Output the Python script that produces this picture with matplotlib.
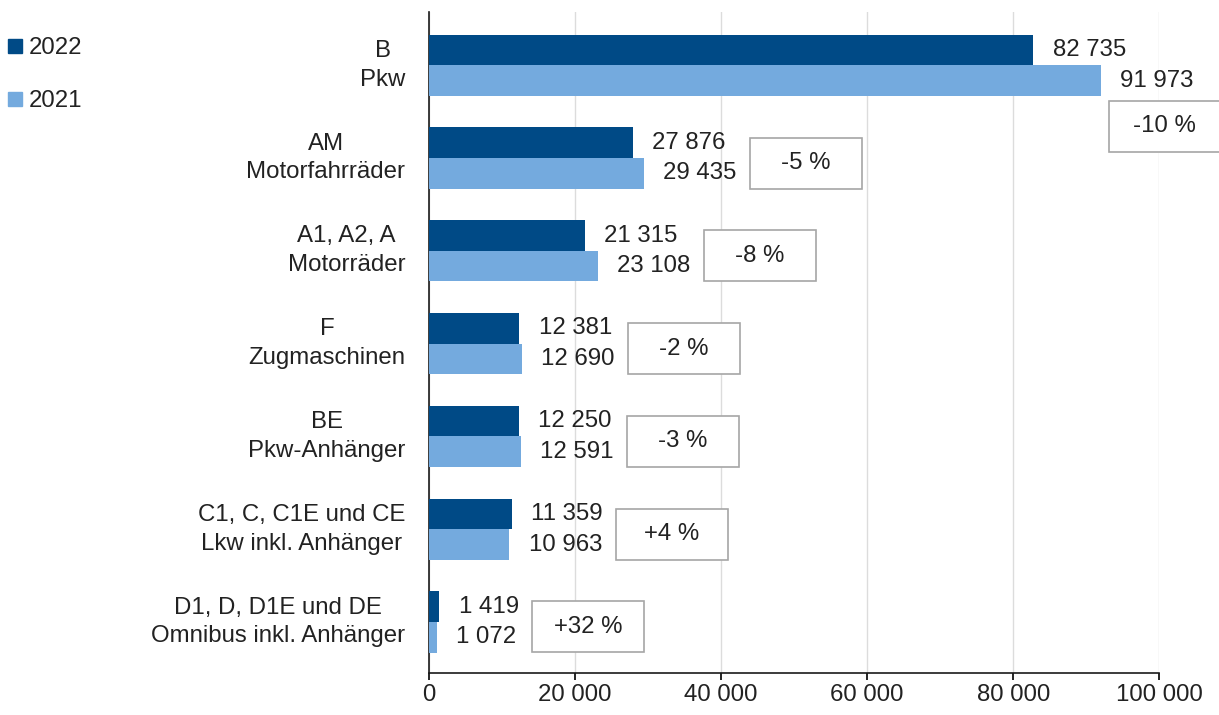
import matplotlib.pyplot as plt
import numpy as np
from matplotlib.lines import Line2D
from matplotlib.patches import Rectangle

plt.rcParams['font.family'] = ['Liberation Sans', 'DejaVu Sans']

# Data
categories = ['B\nPkw', 'AM\nMotorfahrräder', 'A1, A2, A\nMotorräder', 'F\nZugmaschinen',
              'BE\nPkw-Anhänger', 'C1, C, C1E und CE\nLkw inkl. Anhänger',
              'D1, D, D1E und DE\nOmnibus inkl. Anhänger']
values_2022 = [82735, 27876, 21315, 12381, 12250, 11359, 1419]
values_2021 = [91973, 29435, 23108, 12690, 12591, 10963, 1072]
changes = ['-10 %', '-5 %', '-8 %', '-2 %', '-3 %', '+4 %', '+32 %']
xticks = [0, 20000, 40000, 60000, 80000, 100000]

c2022 = '#004a86'
c2021 = '#74aade'
txt = '#222222'
fs = 17.3

def fmt(v):
    return f'{v:,}'.replace(',', ' ')

fig = plt.figure(figsize=(12.19, 7.15), dpi=100)
ax = fig.add_axes([0.352, 0.0587, 0.599, 0.924])

y = np.arange(len(categories))
h = 0.33
ax.barh(y - h / 2, values_2022, h, color=c2022, zorder=3)
ax.barh(y + h / 2, values_2021, h, color=c2021, zorder=3)

ax.set_xlim(0, 100000)
ax.set_ylim(6.55, -0.57)
ax.set_xticks(xticks)
ax.set_xticklabels([fmt(t) for t in xticks], fontsize=fs, color=txt)
ax.set_yticks(y)
ax.set_yticklabels(categories, fontsize=fs, color=txt, multialignment='center',
                   linespacing=1.4, va='center')
ax.tick_params(axis='y', length=0, pad=17)
ax.tick_params(axis='x', length=5, width=1.2, pad=3, direction='out')
ax.grid(axis='x', color='#dcdcdc', linewidth=1, zorder=0)
for s in ['top', 'right']:
    ax.spines[s].set_visible(False)
for s in ['left', 'bottom']:
    ax.spines[s].set_color('#1a1a1a')
    ax.spines[s].set_linewidth(1.2)

labels = []
for i in range(len(categories)):
    a = ax.annotate(fmt(values_2022[i]), (values_2022[i], y[i] - h / 2), xytext=(14, 0),
                    textcoords='offset points', va='center', ha='left', fontsize=fs, color=txt)
    b = ax.annotate(fmt(values_2021[i]), (values_2021[i], y[i] + h / 2), xytext=(14, 0),
                    textcoords='offset points', va='center', ha='left', fontsize=fs, color=txt)
    labels.append((a, b))

fig.canvas.draw()
r = fig.canvas.get_renderer()
inv = ax.transData.inverted()
bw, bh = 112, 51  # box size in pixels
for i, (a, b) in enumerate(labels):
    if i == 0:
        x0 = ax.transData.transform((values_2021[i], 0))[0] + 8
        ytop = ax.transData.transform((0, y[i] + h))[1] - 5
        yc = ytop - bh / 2
    else:
        x0 = max(a.get_window_extent(r).x1, b.get_window_extent(r).x1) + 13
        yc = ax.transData.transform((0, y[i]))[1] - 5
    (dx0, dy0) = inv.transform((x0, yc - bh / 2))
    (dx1, dy1) = inv.transform((x0 + bw, yc + bh / 2))
    ax.add_patch(Rectangle((dx0, dy0), dx1 - dx0, dy1 - dy0, facecolor='white',
                           edgecolor='#a6a6a6', linewidth=1.2, clip_on=False, zorder=4))
    ax.text((dx0 + dx1) / 2, (dy0 + dy1) / 2, changes[i], ha='center', va='center',
            fontsize=fs, color=txt, zorder=5, clip_on=False)

handles = [Line2D([0], [0], marker='s', color='none', markerfacecolor=c2022,
                  markeredgecolor=c2022, markersize=9.5, label='2022'),
           Line2D([0], [0], marker='s', color='none', markerfacecolor=c2021,
                  markeredgecolor=c2021, markersize=9.5, label='2021')]
fig.legend(handles=handles, loc='upper left', bbox_to_anchor=(0.005, 0.948), frameon=False,
           fontsize=fs, handlelength=0.75, handletextpad=0.2, labelspacing=1.3,
           borderpad=0, borderaxespad=0, labelcolor=txt)

fig.savefig('out.png', dpi=100)
